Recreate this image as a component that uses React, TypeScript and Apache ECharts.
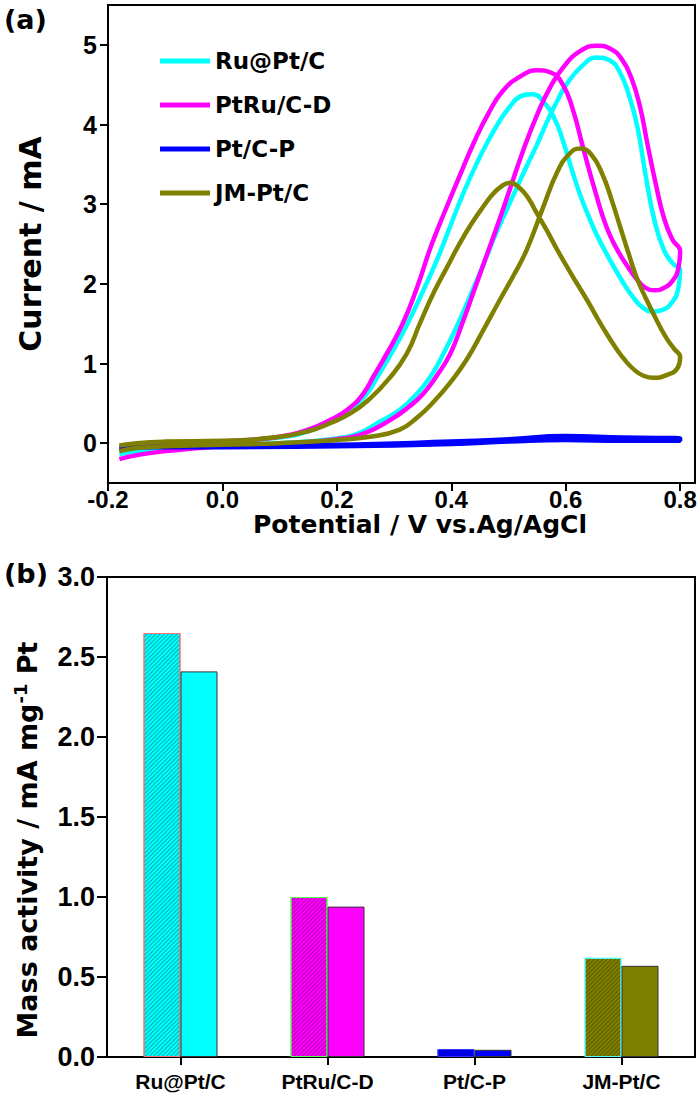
import React, { useEffect, useRef } from 'react';
import * as echarts from 'echarts';

// ---- (a) cyclic voltammograms: [potential V, current mA], forward then backward scan ----
const potentialTicks = [-0.2, 0, 0.2, 0.4, 0.6, 0.8];
const currentTicks = [0, 1, 2, 3, 4, 5];

const ruPtForward = [
  [-0.18, -0.14], [-0.15, -0.1], [-0.1, -0.07], [0.0, -0.03], [0.1, 0.0], [0.2, 0.06],
  [0.24, 0.13], [0.275, 0.27], [0.31, 0.42], [0.34, 0.62], [0.365, 0.85], [0.386, 1.12],
  [0.41, 1.47], [0.433, 1.85], [0.455, 2.22], [0.475, 2.58], [0.495, 2.9], [0.514, 3.2],
  [0.532, 3.48], [0.55, 3.75], [0.567, 4.03], [0.584, 4.28], [0.602, 4.51], [0.628, 4.73],
  [0.654, 4.84], [0.678, 4.8], [0.695, 4.65], [0.71, 4.38], [0.725, 3.98], [0.74, 3.35],
  [0.755, 2.8], [0.772, 2.42], [0.788, 2.25], [0.8, 2.17],
];
const ruPtBackward = [
  [0.797, 1.95], [0.785, 1.76], [0.768, 1.67], [0.751, 1.65], [0.735, 1.7], [0.718, 1.83],
  [0.7, 2.02], [0.675, 2.33], [0.654, 2.62], [0.64, 2.85], [0.625, 3.12], [0.61, 3.45],
  [0.595, 3.8], [0.58, 4.08], [0.562, 4.28], [0.541, 4.38], [0.52, 4.35], [0.5, 4.2],
  [0.485, 4.05], [0.465, 3.8], [0.445, 3.52], [0.42, 3.12], [0.398, 2.72], [0.375, 2.3],
  [0.35, 1.9], [0.32, 1.45], [0.293, 1.1], [0.27, 0.82], [0.25, 0.6], [0.22, 0.4],
  [0.19, 0.27], [0.15, 0.15], [0.1, 0.07], [0.0, 0.01], [-0.1, -0.02], [-0.15, -0.04],
  [-0.18, -0.08],
];

const ptRuForward = [
  [-0.18, -0.2], [-0.15, -0.15], [-0.1, -0.1], [0.0, -0.04], [0.1, -0.01], [0.2, 0.05],
  [0.25, 0.13], [0.293, 0.29], [0.325, 0.45], [0.351, 0.62], [0.375, 0.85], [0.398, 1.12],
  [0.418, 1.48], [0.438, 1.88], [0.46, 2.32], [0.48, 2.72], [0.503, 3.2], [0.526, 3.68],
  [0.55, 4.12], [0.573, 4.47], [0.597, 4.73], [0.625, 4.92], [0.654, 4.99], [0.678, 4.95],
  [0.698, 4.82], [0.715, 4.58], [0.73, 4.22], [0.743, 3.75], [0.757, 3.27], [0.772, 2.82],
  [0.787, 2.55], [0.8, 2.41],
];
const ptRuBackward = [
  [0.797, 2.2], [0.788, 2.05], [0.772, 1.95], [0.756, 1.92], [0.74, 1.95], [0.724, 2.06],
  [0.708, 2.22], [0.69, 2.43], [0.672, 2.7], [0.652, 3.15], [0.63, 3.72], [0.612, 4.2],
  [0.595, 4.5], [0.575, 4.65], [0.55, 4.68], [0.52, 4.6], [0.49, 4.42], [0.465, 4.14],
  [0.44, 3.78], [0.415, 3.36], [0.39, 2.93], [0.365, 2.48], [0.34, 1.95], [0.315, 1.5],
  [0.287, 1.12], [0.265, 0.85], [0.246, 0.62], [0.22, 0.43], [0.188, 0.29], [0.15, 0.17],
  [0.1, 0.08], [0.0, 0.02], [-0.1, -0.01], [-0.15, -0.04], [-0.18, -0.1],
];

const ptCForward = [
  [-0.18, -0.06], [-0.1, -0.04], [0.0, -0.03], [0.2, -0.02], [0.4, 0.02], [0.5, 0.05],
  [0.6, 0.09], [0.7, 0.07], [0.8, 0.06],
];
const ptCBackward = [
  [0.8, 0.03], [0.7, 0.03], [0.6, 0.04], [0.5, 0.02], [0.4, -0.01], [0.2, -0.04],
  [0.0, -0.05], [-0.1, -0.05], [-0.18, -0.05],
];

const jmForward = [
  [-0.18, -0.1], [-0.15, -0.06], [-0.1, -0.04], [0.0, -0.02], [0.1, 0.0], [0.2, 0.04],
  [0.258, 0.08], [0.31, 0.17], [0.34, 0.32], [0.368, 0.51], [0.398, 0.76], [0.427, 1.05],
  [0.456, 1.42], [0.485, 1.8], [0.51, 2.12], [0.532, 2.43], [0.56, 2.95], [0.585, 3.4],
  [0.605, 3.62], [0.625, 3.7], [0.645, 3.62], [0.665, 3.36], [0.68, 3.06], [0.695, 2.72],
  [0.71, 2.38], [0.725, 2.06], [0.74, 1.82], [0.755, 1.6], [0.775, 1.33], [0.79, 1.18],
  [0.8, 1.08],
];
const jmBackward = [
  [0.796, 0.95], [0.775, 0.85], [0.753, 0.82], [0.735, 0.85], [0.72, 0.92], [0.705, 1.03],
  [0.69, 1.17], [0.665, 1.45], [0.637, 1.8], [0.61, 2.12], [0.585, 2.43], [0.567, 2.67],
  [0.55, 2.88], [0.535, 3.07], [0.52, 3.2], [0.503, 3.27], [0.487, 3.22], [0.472, 3.12],
  [0.456, 2.97], [0.435, 2.75], [0.415, 2.51], [0.392, 2.2], [0.37, 1.9], [0.345, 1.5],
  [0.322, 1.12], [0.29, 0.8], [0.258, 0.56], [0.225, 0.38], [0.188, 0.25], [0.15, 0.15],
  [0.1, 0.08], [0.0, 0.03], [-0.1, 0.02], [-0.15, 0.0], [-0.18, -0.03],
];

// ---- (b) mass activity (mA mg^-1 Pt) ----
const catalysts = ['Ru@Pt/C', 'PtRu/C-D', 'Pt/C-P', 'JM-Pt/C'];
const massActivityHatched = [2.65, 1.0, 0.05, 0.62];
const massActivitySolid = [2.41, 0.94, 0.045, 0.57];

const catalystColors = ['#00ffff', '#ff00ff', '#0000ff', '#808000'];
const hatchBorderColors = ['#ff7070', '#50ff50', '#3030ff', '#50ffff'];

const LABEL_FONT = 'Liberation Sans, Arial, sans-serif';
const TITLE_FONT = 'DejaVu Sans, sans-serif';

const curves = [
  { name: 'Ru@Pt/C', color: catalystColors[0], data: [...ruPtForward, ...ruPtBackward] },
  { name: 'PtRu/C-D', color: catalystColors[1], data: [...ptRuForward, ...ptRuBackward] },
  { name: 'Pt/C-P', color: catalystColors[2], data: [...ptCForward, ...ptCBackward] },
  { name: 'JM-Pt/C', color: catalystColors[3], data: [...jmForward, ...jmBackward] },
];

const axisLine = { show: true, onZero: false, lineStyle: { color: '#000', width: 2 } };
const tickLabel = { color: '#000', fontSize: 25, lineHeight: 25, fontWeight: 'bold' as const, fontFamily: LABEL_FONT };
const titleText = { color: '#000', fontSize: 25, fontWeight: 'bold' as const, fontFamily: TITLE_FONT };

const hatchDecal = {
  symbol: 'rect',
  symbolSize: 1,
  dashArrayX: [1, 0],
  dashArrayY: [1, 1.6],
  rotation: -Math.PI / 4,
  color: 'rgba(0,0,0,0.3)',
};

export default function App() {
  const ref = useRef<HTMLDivElement>(null);

  useEffect(() => {
    if (!ref.current) return;
    const chart = echarts.init(ref.current, undefined, { renderer: 'svg' });

    const option = {
      animation: false,
      backgroundColor: '#fff',
      grid: [
        { left: 108, top: 5, right: 5, height: 478, show: true, borderColor: '#000', borderWidth: 2 },
        { left: 107, top: 577, right: 5, height: 480, show: true, borderColor: '#000', borderWidth: 2 },
      ],
      legend: {
        data: curves.map((c) => c.name),
        orient: 'vertical',
        left: 160,
        top: 49,
        padding: 0,
        itemGap: 20,
        itemWidth: 50,
        itemHeight: 5,
        icon: 'rect',
        selectedMode: false,
        textStyle: { ...titleText, fontSize: 23, lineHeight: 24 },
      },
      xAxis: [
        {
          gridIndex: 0,
          type: 'value',
          min: -0.2,
          max: 0.826,
          axisLine,
          axisTick: { show: true, length: 8, lineStyle: { color: '#000', width: 2 }, customValues: potentialTicks },
          axisLabel: { ...tickLabel, fontSize: 24, lineHeight: 24, margin: 4, customValues: potentialTicks, formatter: (v: number) => v.toFixed(1) },
          splitLine: { show: false },
          name: 'Potential / V vs.Ag/AgCl',
          nameLocation: 'middle',
          nameGap: 29,
          nameTextStyle: { ...titleText, lineHeight: 25, padding: [0, 0, 0, 37] },
        },
        {
          gridIndex: 1,
          type: 'category',
          data: catalysts,
          axisLine,
          axisTick: { show: true, alignWithLabel: true, length: 8, lineStyle: { color: '#000', width: 2 } },
          axisLabel: { ...tickLabel, fontSize: 21, lineHeight: 21, margin: 14 },
        },
      ],
      yAxis: [
        {
          gridIndex: 0,
          type: 'value',
          min: -0.5,
          max: 5.5,
          axisLine,
          axisTick: { show: true, length: 8, lineStyle: { color: '#000', width: 2 }, customValues: currentTicks },
          axisLabel: { ...tickLabel, margin: 11, customValues: currentTicks, formatter: (v: number) => String(v) },
          splitLine: { show: false },
          name: 'Current / mA',
          nameLocation: 'middle',
          nameRotate: 90,
          nameGap: 63,
          nameTextStyle: { ...titleText, fontSize: 30 },
        },
        {
          gridIndex: 1,
          type: 'value',
          min: 0,
          max: 3,
          interval: 0.5,
          axisLine,
          axisTick: { show: true, length: 10, lineStyle: { color: '#000', width: 2 } },
          axisLabel: { ...tickLabel, fontSize: 27, lineHeight: 27, margin: 12, formatter: (v: number) => v.toFixed(1) },
          splitLine: { show: false },
          name: 'Mass activity / mA mg{sup|-1} Pt',
          nameLocation: 'middle',
          nameRotate: 90,
          nameGap: 64,
          nameTextStyle: {
            ...titleText,
            fontSize: 27,
            padding: [0, 46, 0, 0],
            rich: {
              sup: { ...titleText, fontSize: 18, verticalAlign: 'top', padding: [0, 0, 14, 0] },
            },
          },
        },
      ],
      series: [
        ...curves.map((c) => ({
          type: 'line',
          name: c.name,
          xAxisIndex: 0,
          yAxisIndex: 0,
          data: c.data,
          smooth: 0.5,
          showSymbol: false,
          symbol: 'none',
          color: c.color,
          lineStyle: { color: c.color, width: 4.5 },
        })),
        {
          type: 'bar',
          name: 'hatched',
          xAxisIndex: 1,
          yAxisIndex: 1,
          barWidth: 37,
          barGap: '0%',
          data: massActivityHatched.map((v, i) => ({
            value: v,
            itemStyle: {
              color: catalystColors[i],
              borderColor: hatchBorderColors[i],
              borderWidth: 1,
              decal: hatchDecal,
            },
          })),
        },
        {
          type: 'bar',
          name: 'solid',
          xAxisIndex: 1,
          yAxisIndex: 1,
          barWidth: 37,
          barGap: '0%',
          data: massActivitySolid.map((v, i) => ({
            value: v,
            itemStyle: { color: catalystColors[i], borderColor: '#333', borderWidth: 1 },
          })),
        },
      ],
      graphic: [
        { type: 'text', left: 4, top: 6, style: { text: '(a)', fill: '#000', font: `bold 27px ${TITLE_FONT}` } },
        { type: 'text', left: 4, top: 560, style: { text: '(b)', fill: '#000', font: `bold 27px ${TITLE_FONT}` } },
      ],
    };

    chart.setOption(option as any);
    return () => chart.dispose();
  }, []);

  return (
    <div
      ref={ref}
      style={{ position: 'absolute', left: 0, top: 0, width: 700, height: 1106, background: '#fff' }}
    />
  );
}
